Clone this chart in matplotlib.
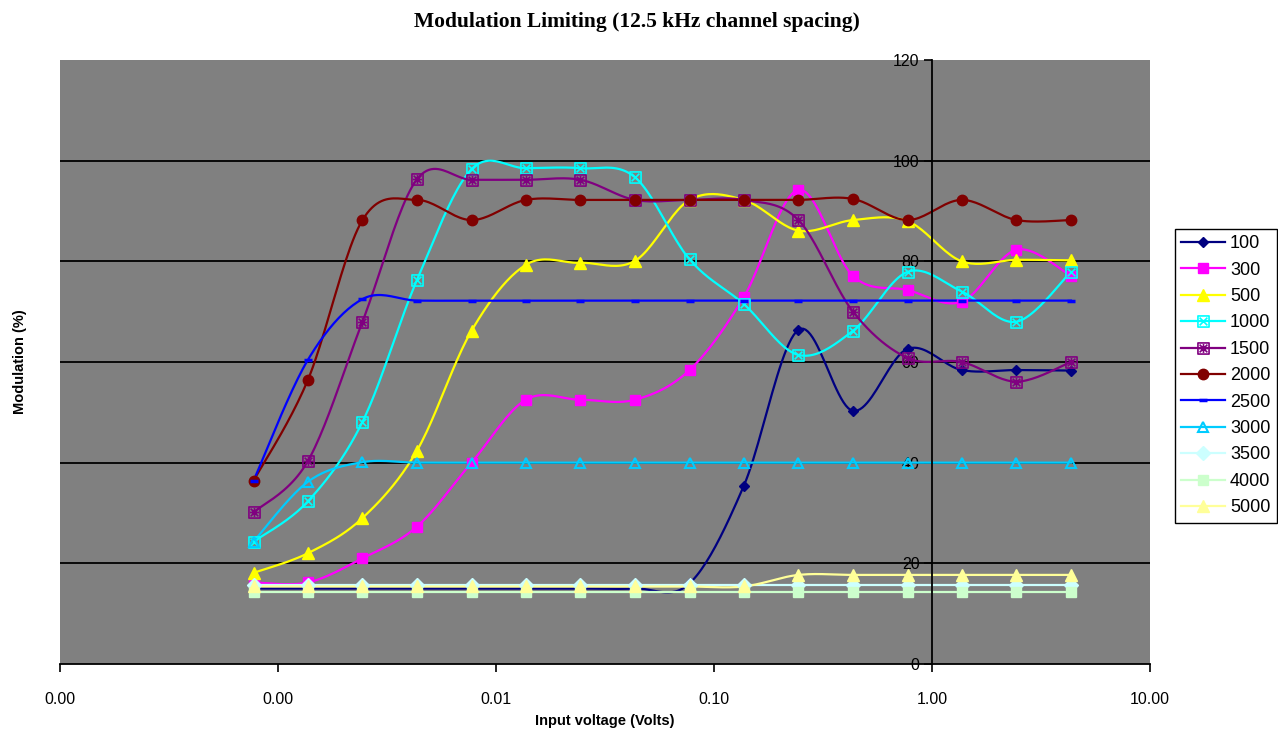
import numpy as np
import matplotlib.pyplot as plt
from matplotlib.lines import Line2D
from matplotlib.path import Path
from matplotlib.ticker import NullLocator, FormatStrFormatter

# input voltage (V), 5 dB steps
volts = [0.000772, 0.00137, 0.00244, 0.00434, 0.00772, 0.0137, 0.0244, 0.0434,
         0.0772, 0.137, 0.244, 0.434, 0.772, 1.37, 2.44, 4.34]

# modulation (%) per tone frequency (Hz)
mod_100 = [15, 15, 15, 15, 15, 15, 15, 15, 16, 35.4, 66.4, 50.3, 62.6, 58.4, 58.4, 58.3]
mod_300 = [16.2, 16.2, 21, 27.3, 40, 52.5, 52.5, 52.5, 58.4, 72.9, 94.2, 77.1, 74.3, 72, 82.3, 77.1]
mod_500 = [18.1, 22, 29, 42.4, 66.2, 79.3, 79.7, 80.1, 92.2, 92.2, 86.1, 88.2, 88, 80, 80.3, 80.2]
mod_1000 = [24.3, 32.3, 48.1, 76.3, 98.3, 98.5, 98.5, 96.7, 80.4, 71.5, 61.4, 66.2, 77.9, 74, 68, 77.9]
mod_1500 = [30.1, 40.3, 68, 96.3, 96.2, 96.2, 96.2, 92.2, 92.2, 92.2, 88.2, 70, 60.8, 60, 56.1, 60]
mod_2000 = [36.4, 56.4, 88.2, 92.2, 88.2, 92.2, 92.2, 92.2, 92.2, 92.2, 92.2, 92.4, 88.2, 92.2, 88.2, 88.2]
mod_2500 = [36.4, 60.4, 72.5, 72.2, 72.2, 72.2, 72.2, 72.2, 72.2, 72.2, 72.2, 72.2, 72.2, 72.2, 72.2, 72.2]
mod_3000 = [24.3, 36.2, 40.1, 40, 40, 40, 40, 40, 40, 40, 40, 40, 40, 40, 40, 40]
mod_3500 = [15.6, 15.6, 15.6, 15.6, 15.6, 15.6, 15.6, 15.6, 15.6, 15.6, 15.6, 15.6, 15.6, 15.6, 15.6, 15.6]
mod_4000 = [14.3, 14.3, 14.3, 14.3, 14.3, 14.3, 14.3, 14.3, 14.3, 14.3, 14.3, 14.3, 14.3, 14.3, 14.3, 14.3]
mod_5000 = [15.4, 15.4, 15.4, 15.4, 15.4, 15.4, 15.4, 15.4, 15.4, 15.4, 17.7, 17.7, 17.7, 17.7, 17.7, 17.7]

labels = ['100', '300', '500', '1000', '1500', '2000', '2500', '3000', '3500', '4000', '5000']
series = [mod_100, mod_300, mod_500, mod_1000, mod_1500, mod_2000, mod_2500,
          mod_3000, mod_3500, mod_4000, mod_5000]

x_ticks = [0.0001, 0.001, 0.01, 0.1, 1, 10]
y_ticks = [0, 20, 40, 60, 80, 100, 120]


def boxed(extra):
    # square outline with some strokes inside
    verts = [(-1, -1), (1, -1), (1, 1), (-1, 1), (-1, -1)]
    codes = [Path.MOVETO] + [Path.LINETO] * 3 + [Path.CLOSEPOLY]
    for a, b in extra:
        verts += [a, b]
        codes += [Path.MOVETO, Path.LINETO]
    return Path(verts, codes)


box_x = boxed([((-0.7, -0.7), (0.7, 0.7)), ((-0.7, 0.7), (0.7, -0.7))])
box_star = boxed([((-0.7, -0.7), (0.7, 0.7)), ((-0.7, 0.7), (0.7, -0.7)),
                  ((0, -0.8), (0, 0.8)), ((-0.8, 0), (0.8, 0))])

styles = [
    dict(color='#000080', marker='D', ms=5.5, mfc='#000080'),
    dict(color='#ff00ff', marker='s', ms=7, mfc='#ff00ff'),
    dict(color='#ffff00', marker='^', ms=8, mfc='#ffff00'),
    dict(color='#00ffff', marker=box_x, ms=8, mfc='none', mew=1.2),
    dict(color='#800080', marker=box_star, ms=8, mfc='none', mew=1.2),
    dict(color='#800000', marker='o', ms=7.5, mfc='#800000'),
    dict(color='#0000ff', marker='_', ms=6, mfc='#0000ff', mew=2.5),
    dict(color='#00ccff', marker='^', ms=7.5, mfc='none', mew=1.5),
    dict(color='#ccffff', marker='D', ms=7, mfc='#ccffff'),
    dict(color='#ccffcc', marker='s', ms=7.5, mfc='#ccffcc'),
    dict(color='#ffff99', marker='^', ms=8, mfc='#ffff99'),
]


def smooth(xs, ys, n=24):
    # Excel-like smoothed line (Catmull-Rom Bezier) in screen-like units
    u = (np.log10(xs) + 4) * 218.0
    v = np.asarray(ys, dtype=float) * 5.033
    P = np.column_stack([u, v])
    out = []
    t = np.linspace(0, 1, n)[:, None]
    for i in range(len(P) - 1):
        p0 = P[i - 1] if i > 0 else P[i]
        p1 = P[i]
        p2 = P[i + 1]
        p3 = P[i + 2] if i + 2 < len(P) else P[i + 1]
        c1 = p1 + (p2 - p0) / 6
        c2 = p2 - (p3 - p1) / 6
        seg = ((1 - t) ** 3) * p1 + 3 * ((1 - t) ** 2) * t * c1 + 3 * (1 - t) * t ** 2 * c2 + t ** 3 * p2
        out.append(seg if i == 0 else seg[1:])
    out = np.vstack(out)
    return 10 ** (out[:, 0] / 218.0 - 4), out[:, 1] / 5.033


plt.rcParams['font.family'] = ['Liberation Sans', 'DejaVu Sans']

fig = plt.figure(figsize=(12.78, 7.31), dpi=100)
ax = fig.add_axes([60 / 1278, 67 / 731, 1090 / 1278, 604 / 731])
ax.set_facecolor('#808080')

ax.set_xscale('log')
ax.set_xlim(x_ticks[0], x_ticks[-1])
ax.set_ylim(y_ticks[0], y_ticks[-1])

for yv in y_ticks[1:-1]:
    ax.axhline(yv, color='black', lw=1.3, zorder=1)

x = np.array(volts)
handles = []
for vals, st, lab in zip(series, styles, labels):
    sx, sy = smooth(x, vals)
    ax.plot(sx, sy, color=st['color'], lw=1.6, zorder=2)
    ax.plot(x, vals, ls='none', marker=st['marker'], ms=st['ms'], mfc=st['mfc'],
            mec=st['color'], mew=st.get('mew', 1), zorder=3)
    handles.append(Line2D([], [], color=st['color'], lw=1.6, marker=st['marker'], ms=st['ms'],
                          mfc=st['mfc'], mec=st['color'], mew=st.get('mew', 1), label=lab))

ax.set_xticks(x_ticks)
ax.xaxis.set_minor_locator(NullLocator())
ax.xaxis.set_major_formatter(FormatStrFormatter('%.2f'))
ax.set_yticks(y_ticks)

for s in ['top', 'right']:
    ax.spines[s].set_visible(False)
ax.spines['left'].set_position(('data', 1))
ax.spines['left'].set_linewidth(1.3)
ax.spines['bottom'].set_linewidth(1.3)
ax.tick_params(axis='both', direction='out', length=6, width=1.2, labelsize=11.5, pad=3)
ax.tick_params(axis='x', pad=14)

ax.set_xlabel('Input voltage (Volts)', fontsize=10.5, fontweight='bold')
ax.xaxis.set_label_coords(0.5, -0.082)
ax.set_ylabel('Modulation (%)', fontsize=10.5, fontweight='bold')
ax.yaxis.set_label_coords(-0.03, 0.5)

fig.text(637 / 1278, 1 - 22 / 731, 'Modulation Limiting (12.5 kHz channel spacing)',
         ha='center', va='center', fontsize=15.5, fontweight='bold', family='Liberation Serif')

leg = fig.legend(handles=handles, loc='upper left', bbox_to_anchor=(1175 / 1278, 1 - 229 / 731),
                 fontsize=13, frameon=True, fancybox=False, edgecolor='black', framealpha=1,
                 labelspacing=0.52, handlelength=2.4, handletextpad=0.3, borderpad=0.35,
                 borderaxespad=0)
leg.get_frame().set_linewidth(1.0)

fig.savefig('out.png', dpi=100)
